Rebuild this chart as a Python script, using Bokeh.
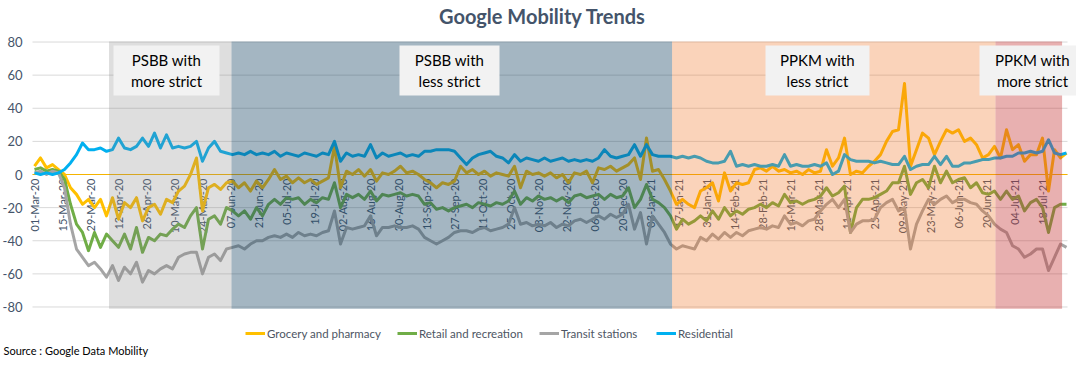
import numpy as np
import pandas as pd
from bokeh.plotting import figure
from bokeh.models import Range1d, Legend, LegendItem, ColumnDataSource
from bokeh.embed import file_html
from bokeh.resources import INLINE
from bokeh.core.properties import value

# ---------------- data (every 3rd day from 01-Mar-20) ----------------
start_date = "2020-03-01"
step_days = 3

grocery = [5, 10, 4, 6, 3, 0, -8, -12, -18, -15, -20, -15, -25, -14, -27, -17, -20, -14, -28, -20,
           -18, -24, -15, -17, -10, -7, 0, 10, -22, -8, -6, -9, -5, -4,
           -8, -5, -10, -4, -8, -3, 3, -3, -1, -5, -2, -5, -3, -6, -4, -2, 17, -8, 2, 0,
           3, -1, 3, -4, 1, 0, 2, 5, 1, 2, 0, -3, -5, -8, -5,
           -6, -4, 5, 1, 3, 0, 2, -1, 1, 0, -1, 5, -8, 2, 0, 1, -1, 1, -2, 0,
           -5, 1, 0, 2, -5, 4, 3, 5, 2, 4, 6, 10, -3, 22, 2, 3,
           -3, -10, -18, -15, -18, -20, -10, -8, -5, -16, 1, -10, -5, -6, -5, 3, 4, 2,
           5, 2, 3, 1, 2, 0, 3, 1, 2, 15, 5, 10, 22, 0, 2,
           1, 5, 8, 12, 20, 26, 27, 55, 5, 15, 25, 22, 12, 20, 27, 25, 27, 20,
           22, 18, 10, 12, 17, 10, 27, 15, 18, 8, 12, 12, 22, -10, 15, 10, 13]

retail = [3, 4, 2, 3, 2, -3, -18, -30, -35, -46, -35, -44, -36, -40, -44, -36, -45, -32, -47, -38,
          -40, -36, -37, -33, -30, -32, -25, -20, -45, -27, -25, -30, -20, -22,
          -25, -22, -27, -20, -25, -18, -15, -18, -14, -15, -14, -18, -15, -17, -14, -15, -5, -20,
          -12, -14, -12, -15, -10, -16, -12, -13, -12, -11, -13, -12, -13, -18, -17, -21, -20,
          -22, -20, -19, -18, -20, -17, -18, -19, -17, -18, -16, -10, -18, -14, -16, -13, -15, -14,
          -16, -14, -17, -13, -12, -14, -13, -12, -15, -12, -14, -13, -8, -20, -15, -6, -15, -17,
          -20, -25, -33, -27, -30, -28, -25, -28, -22, -27, -20, -25, -22, -24, -21, -20, -18, -20,
          -17, -19, -12, -17, -16, -18, -16, -15, -13, -8, -13, -11, -7, -35, -20,
          -15, -15, -14, -12, -10, -5, -5, 5, -12, -5, -3, -8, 5, -5, 2, -5, -3, -2,
          -8, -5, -11, -12, -10, -15, -10, -15, -13, -22, -17, -15, -20, -35, -20, -18, -18]

transit = [1, 2, 0, 2, 1, -8, -30, -45, -50, -55, -53, -57, -62, -55, -64, -56, -60, -53, -65, -58,
           -60, -57, -55, -57, -50, -48, -47, -47, -60, -50, -48, -52, -45, -44,
           -43, -45, -42, -40, -40, -38, -37, -38, -36, -38, -35, -37, -36, -37, -35, -34, -22, -42,
           -32, -33, -32, -31, -25, -37, -32, -32, -31, -32, -32, -31, -33, -38, -40, -42, -40,
           -38, -35, -34, -34, -35, -33, -32, -34, -33, -32, -30, -20, -30, -29, -31, -30, -31, -29,
           -32, -30, -31, -28, -27, -29, -27, -25, -27, -24, -26, -24, -18, -33, -23, -42, -25, -30,
           -35, -42, -45, -43, -44, -45, -38, -40, -36, -39, -35, -38, -35, -37, -34, -33, -32, -33,
           -31, -32, -25, -30, -29, -31, -28, -27, -22, -18, -15, -20, -15, -35, -30,
           -28, -28, -27, -20, -17, -15, -22, -20, -45, -30, -22, -15, -18, -15, -13, -17, -15, -15,
           -17, -18, -22, -25, -30, -33, -35, -43, -45, -50, -48, -45, -45, -58, -50, -42, -44]

residential = [1, 0, 1, 0, 1, 3, 7, 12, 19, 15, 15, 16, 14, 15, 22, 16, 15, 17, 22, 17,
               25, 16, 24, 16, 17, 16, 17, 20, 8, 16, 20, 14, 13, 12,
               13, 12, 14, 12, 13, 12, 14, 11, 13, 12, 11, 13, 12, 11, 13, 12, 20, 8,
               13, 11, 12, 11, 18, 10, 13, 11, 12, 13, 11, 12, 11, 14, 14, 15, 15,
               15, 14, 10, 6, 10, 12, 13, 14, 11, 10, 7, 12, 8, 10, 9, 8, 10, 8,
               9, 10, 8, 9, 8, 9, 8, 10, 15, 11, 10, 11, 12, 18, 11, 18, 12, 11,
               11, 11, 10, 11, 10, 11, 10, 8, 7, 7, 8, 14, 5, 6, 5, 6, 5, 5,
               6, 5, 12, 5, 6, 5, 5, 6, 5, 7, 0, 2, 12, 9, 8,
               8, 8, 7, 8, 7, 6, 6, 11, 3, 5, 6, 6, 11, 6, 11, 5, 5, 7,
               7, 8, 9, 9, 10, 10, 11, 11, 13, 13, 14, 13, 14, 21, 13, 12, 13]

series_names = ["Grocery and pharmacy", "Retail and recreation", "Transit stations", "Residential"]
series_colors = ["#FFC000", "#70AD47", "#A5A5A5", "#00B0F0"]

tick_labels = ["01-Mar-20", "15-Mar-20", "29-Mar-20", "12-Apr-20", "26-Apr-20", "10-May-20",
               "24-May-20", "07-Jun-20", "21-Jun-20", "05-Jul-20", "19-Jul-20", "02-Aug-20",
               "16-Aug-20", "30-Aug-20", "13-Sep-20", "27-Sep-20", "11-Oct-20", "25-Oct-20",
               "08-Nov-20", "22-Nov-20", "06-Dec-20", "20-Dec-20", "03-Jan-21", "17-Jan-21",
               "31-Jan-21", "14-Feb-21", "28-Feb-21", "14-Mar-21", "28-Mar-21", "11-Apr-21",
               "25-Apr-21", "09-May-21", "23-May-21", "06-Jun-21", "20-Jun-21", "04-Jul-21",
               "18-Jul-21"]
y_ticks = [-80, -60, -40, -20, 0, 20, 40, 60, 80]

phase_labels = ["PSBB with\nmore strict", "PSBB with\nless strict",
                "PPKM with\nless strict", "PPKM with\nmore strict"]
phase_start = ["2020-04-07 06:00", "2020-06-07 12:00", "2021-01-13 19:00", "2021-06-24 12:00"]
phase_end = ["2020-06-07 12:00", "2021-01-13 19:00", "2021-06-24 12:00", "2021-07-27 19:00"]
phase_colors = ["#808080", "#1C4866", "#EE6C19", "#C53939"]
phase_alpha = [0.26, 0.40, 0.30, 0.40]

# ---------------- layout helpers (reference pixels -> data space) ----------------
t0 = pd.Timestamp(start_date)
def day_at(px):
    return (t0 + pd.Timedelta(days=(px - 34) / 2.0)).to_pydatetime()
def val_at(py):
    return (174 - py) / 1.656

W, H = 1076, 359
dates = pd.date_range(start_date, periods=len(grocery), freq=f"{step_days}D")
tick_dates = pd.to_datetime(tick_labels, format="%d-%b-%y")

p = figure(width=W, height=H, x_axis_type="datetime", x_axis_location=None,
           y_axis_location=None, toolbar_location=None, output_backend="svg",
           min_border_left=0, min_border_right=0, min_border_top=0, min_border_bottom=0,
           x_range=Range1d(day_at(0), day_at(W)),
           y_range=Range1d(val_at(H), val_at(0)))
p.outline_line_color = None
p.xgrid.visible = False
p.ygrid.visible = False
p.background_fill_color = "white"
p.border_fill_color = "white"

# value-axis labels
p.text(x=[day_at(22)] * len(y_ticks), y=y_ticks, text=[str(t) for t in y_ticks],
       text_align="right", text_baseline="middle", text_font=value("Lato"),
       text_font_size="13px", text_color="#44546A")

# gridlines
grid_src = ColumnDataSource(dict(x0=[day_at(32)] * len(y_ticks), x1=[day_at(1067)] * len(y_ticks), y=y_ticks))
p.segment(x0="x0", x1="x1", y0="y", y1="y", source=grid_src, line_color="#D9D9D9", line_width=1)
# category axis line at zero
p.segment(x0=[day_at(32)], x1=[day_at(1067)], y0=[0], y1=[0], line_color="#F5B400", line_width=1)

# date labels sitting under the zero line
p.text(x=tick_dates, y=[val_at(178)] * len(tick_dates), text=tick_labels, angle=np.pi / 2,
       text_align="right", text_baseline="middle", text_font=value("Lato"),
       text_font_size="11px", text_color="#44546A")

# series
renderers = []
for vals, name, col in zip([grocery, retail, transit, residential], series_names, series_colors):
    r = p.line(dates, vals, line_color=col, line_width=3, line_join="round")
    renderers.append(r)

# shaded policy phases (translucent, over the lines)
ph_src = ColumnDataSource(dict(left=pd.to_datetime(phase_start), right=pd.to_datetime(phase_end),
                               color=phase_colors, alpha=phase_alpha))
p.quad(left="left", right="right", top=80.3, bottom=-81, source=ph_src,
       fill_color="color", fill_alpha="alpha", line_color=None)

# phase text boxes
box_px = [(113, 219), (399, 499), (765, 869), (979, 1085)]
box_src = ColumnDataSource(dict(left=[day_at(a) for a, b in box_px], right=[day_at(b) for a, b in box_px],
                                cx=[day_at((a + b) / 2) for a, b in box_px]))
p.quad(left="left", right="right", top=val_at(45), bottom=val_at(95), source=box_src,
       fill_color="#F2F2F2", line_color=None)
line1 = [s.split("\n")[0] for s in phase_labels]
line2 = [s.split("\n")[1] for s in phase_labels]
p.text(x=box_src.data["cx"], y=[val_at(59)] * 4, text=line1, text_align="center", text_baseline="middle",
       text_font=value("Lato"), text_font_size="15px", text_color="#000000")
p.text(x=box_src.data["cx"], y=[val_at(80)] * 4, text=line2, text_align="center", text_baseline="middle",
       text_font=value("Lato"), text_font_size="15px", text_color="#000000")

# title and source
p.text(x=[day_at(542)], y=[val_at(15)], text=["Google Mobility Trends"], text_align="center",
       text_baseline="middle", text_font=value("Lato"), text_font_style="bold",
       text_font_size="20px", text_color="#44546A")
p.text(x=[day_at(3)], y=[val_at(350)], text=["Source : Google Data Mobility"], text_align="left",
       text_baseline="middle", text_font=value("Lato"), text_font_size="11px",
       text_color="#000000")

# legends: one per entry, placed like the reference
legend_x = [245, 397, 539, 656]
for r, name, lx in zip(renderers, series_names, legend_x):
    lg = Legend(items=[LegendItem(label=name, renderers=[r])], location=(lx, H - 333 - 7),
                orientation="horizontal", padding=0, margin=0, spacing=0,
                glyph_width=20, glyph_height=14, label_height=14, label_standoff=2,
                label_text_font="Lato", label_text_font_size="11.5px", label_text_color="#4D5563",
                background_fill_alpha=0, border_line_color=None)
    p.add_layout(lg)

open("out.html", "w").write(file_html(p, INLINE))
